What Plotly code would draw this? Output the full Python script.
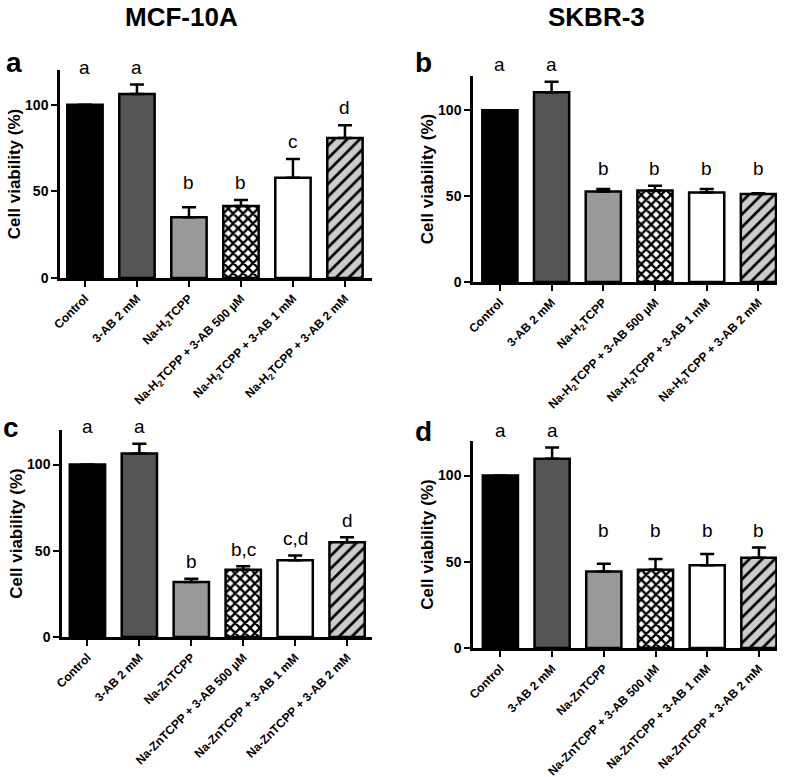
import plotly.graph_objects as go

# ---------------- data ----------------
cats_h2 = ["Control", "3-AB 2 mM", "Na-H<sub>2</sub>TCPP",
           "Na-H<sub>2</sub>TCPP + 3-AB 500 µM",
           "Na-H<sub>2</sub>TCPP + 3-AB 1 mM",
           "Na-H<sub>2</sub>TCPP + 3-AB 2 mM"]
cats_zn = ["Control", "3-AB 2 mM", "Na-ZnTCPP",
           "Na-ZnTCPP + 3-AB 500 µM",
           "Na-ZnTCPP + 3-AB 1 mM",
           "Na-ZnTCPP + 3-AB 2 mM"]

a_mean = [100, 106.2, 35.0, 41.5, 57.9, 80.8]
a_err = [0, 5.5, 5.8, 3.5, 10.8, 7.3]
a_letters = ["a", "a", "b", "b", "c", "d"]

b_mean = [100, 110.5, 52.7, 53.3, 52.1, 51.2]
b_err = [0, 6.1, 1.5, 2.7, 2.1, 0.5]
b_letters = ["a", "a", "b", "b", "b", "b"]

c_mean = [100, 106.4, 31.9, 39.0, 44.5, 54.9]
c_err = [0, 5.6, 1.9, 2.0, 2.7, 2.9]
c_letters = ["a", "a", "b", "b,c", "c,d", "d"]

d_mean = [100, 109.7, 44.4, 45.4, 47.9, 52.3]
d_err = [0, 6.5, 4.4, 6.2, 6.6, 6.0]
d_letters = ["a", "a", "b", "b", "b", "b"]

col_titles = ["MCF-10A", "SKBR-3"]
panel_labels = ["a", "b", "c", "d"]
y_title = "Cell viability (%)"
y_ticks = [0, 50, 100]

# ---------------- styling ----------------
FONT = "Liberation Sans, Arial, Helvetica, sans-serif"
bar_colors = ["#000000", "#555555", "#999999", "#ffffff", "#ffffff", "#cccccc"]
pat_shapes = ["", "", "", "x", "", "/"]
pat_sizes = [8, 8, 8, 7, 8, 9]
pat_solid = [0.3, 0.3, 0.3, 0.55, 0.3, 0.3]

W, H = 787, 777
YMAX = 120

# panel geometry in pixels
panels = [
    dict(x0=60, x1=372, yt=70, yb=278, xr=[-0.48, 5.52], mean=a_mean, err=a_err, let=a_letters,
         cats=cats_h2, lab=(14, 62.5)),
    dict(x0=473, x1=777, yt=76, yb=282, xr=[-0.52, 5.36], mean=b_mean, err=b_err, let=b_letters,
         cats=cats_h2, lab=(424, 62)),
    dict(x0=62, x1=372, yt=430, yb=637, xr=[-0.49, 5.48], mean=c_mean, err=c_err, let=c_letters,
         cats=cats_zn, lab=(11, 427.5)),
    dict(x0=473, x1=777, yt=441, yb=648, xr=[-0.53, 5.35], mean=d_mean, err=d_err, let=d_letters,
         cats=cats_zn, lab=(424, 431)),
]

fig = go.Figure()
annotations = []
layout_axes = {}

for k, p in enumerate(panels):
    n = "" if k == 0 else str(k + 1)
    ydom = [(H - p["yb"]) / H, (H - p["yt"]) / H]
    for i in range(len(p["cats"])):
        fig.add_trace(go.Bar(
            x=[i], y=[p["mean"][i]], width=0.68,
            xaxis="x" + n, yaxis="y" + n,
            marker=dict(
                color=bar_colors[i],
                line=dict(color="black", width=2.5),
                pattern=dict(shape=pat_shapes[i], fgcolor="black", bgcolor=bar_colors[i],
                             size=pat_sizes[i], solidity=pat_solid[i], fillmode="replace"),
            ),
            error_y=dict(type="data", symmetric=False, array=[p["err"][i]],
                         arrayminus=[0], color="black", thickness=2.5, width=7),
            showlegend=False, hoverinfo="skip",
        ))
    layout_axes["xaxis" + n] = dict(
        domain=[p["x0"] / W, p["x1"] / W], anchor="y" + n, range=p["xr"],
        tickmode="array", tickvals=list(range(len(p["cats"]))), ticktext=p["cats"], tickangle=-45,
        ticks="outside", ticklen=6, tickwidth=2, tickcolor="black",
        showline=True, linecolor="black", linewidth=2.5, showgrid=False, zeroline=False,
        tickfont=dict(family=FONT, size=12, color="black", weight="bold"),
        automargin=False,
    )
    layout_axes["yaxis" + n] = dict(
        domain=ydom, anchor="x" + n, range=[0, YMAX],
        tickmode="array", tickvals=y_ticks,
        ticks="outside", ticklen=6, tickwidth=2, tickcolor="black",
        showline=True, linecolor="black", linewidth=2.5, showgrid=False, zeroline=False,
        tickfont=dict(family=FONT, size=14, color="black", weight="bold"),
        title=dict(text=y_title, font=dict(family=FONT, size=17, color="black", weight="bold"),
                   standoff=1),
        automargin=False,
    )
    # significance letters: above the highest error bar of each letter group
    group_top = {}
    for L, m, e in zip(p["let"], p["mean"], p["err"]):
        group_top[L] = max(group_top.get(L, 0), m + e)
    for i, L in enumerate(p["let"]):
        yv = (group_top[L] + 10) / YMAX
        annotations.append(dict(
            x=i, xref="x" + n, y=ydom[0] + yv * (ydom[1] - ydom[0]), yref="paper", text=L,
            showarrow=False, yanchor="middle", xanchor="center",
            font=dict(family=FONT, size=19, color="black"),
        ))
    # panel label
    annotations.append(dict(
        x=p["lab"][0] / W, y=(H - p["lab"][1]) / H, xref="paper", yref="paper",
        text="<b>" + panel_labels[k] + "</b>", showarrow=False,
        xanchor="center", yanchor="middle",
        font=dict(family=FONT, size=28, color="black"),
    ))

# column titles
for t, cx in zip(col_titles, [181, 596]):
    annotations.append(dict(
        x=cx / W, y=1.0, xref="paper", yref="paper", text="<b>" + t + "</b>",
        showarrow=False, xanchor="center", yanchor="top",
        font=dict(family=FONT, size=26, color="black"),
    ))

fig.update_layout(
    width=W, height=H, margin=dict(l=0, r=0, t=0, b=0, autoexpand=False),
    paper_bgcolor="white", plot_bgcolor="white",
    annotations=annotations, barmode="overlay",
    **layout_axes,
)

fig.write_html("out.html", config={"displayModeBar": False},
               post_script="document.body.style.margin='0px';")
